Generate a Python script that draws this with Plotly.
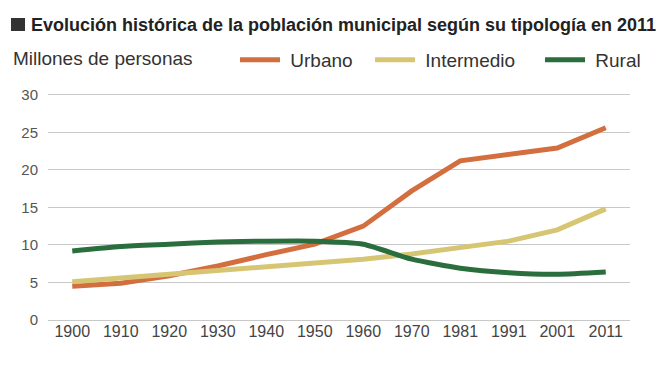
import plotly.graph_objects as go

years = ["1900", "1910", "1920", "1930", "1940", "1950", "1960", "1970", "1981", "1991", "2001", "2011"]
urbano = [4.5, 4.9, 5.9, 7.2, 8.7, 10.1, 12.5, 17.2, 21.2, 22.1, 22.9, 25.6]
intermedio = [5.1, 5.6, 6.1, 6.7, 7.2, 7.6, 8.1, 8.8, 9.7, 10.5, 12.0, 14.8]
rural = [9.2, 9.8, 10.1, 10.4, 10.5, 10.5, 10.1, 8.1, 6.9, 6.3, 6.1, 6.4]

series = [("Urbano", urbano, "#D36E3F", "linear", "legend", 0.3213),
          ("Intermedio", intermedio, "#D6C674", "linear", "legend2", 0.5533),
          ("Rural", rural, "#2A6E3E", "spline", "legend3", 0.8454)]

# the page body has an 8px margin; positions below are in page pixels
PL, PT, PW, PH = 48, 91, 582, 229
def px(x):
    return (x - PL) / PW
def py(y):
    return 1 + (PT - y) / PH

fig = go.Figure()
leg_layout = {}
for name, vals, col, shape, leg, lx in series:
    fig.add_trace(go.Scatter(x=years, y=vals, name="\u00a0" + name, mode="lines", legend=leg,
                             line=dict(color=col, width=5, shape=shape, smoothing=0.6)))
    leg_layout[leg] = dict(orientation="h", x=lx, xanchor="left", y=py(60),
                           yanchor="middle", font=dict(size=19, color="#333333"),
                           itemwidth=40, bgcolor="rgba(0,0,0,0)")

fig.update_layout(
    width=664, height=385,
    margin=dict(l=PL - 8, r=664 - (PL + PW) + 8, t=PT - 8, b=385 - (PT + PH) + 8, autoexpand=False),
    paper_bgcolor="white", plot_bgcolor="white",
    font=dict(family="Liberation Sans, Arial, sans-serif", color="#444444"),
    showlegend=True,
    xaxis=dict(type="category", range=[-0.5, 11.5], showgrid=False, showline=False,
               ticks="", tickfont=dict(size=16, color="#444444")),
    yaxis=dict(range=[0, 30.5], tickvals=[0, 5, 10, 15, 20, 25, 30], showgrid=True,
               gridcolor="#C8C8C8", gridwidth=1, zeroline=True, zerolinecolor="#C8C8C8",
               zerolinewidth=1, ticks="", ticklabelstandoff=9,
               tickfont=dict(size=15, color="#555555")),
    **leg_layout,
)
fig.add_shape(type="rect", xref="paper", yref="paper", x0=px(11), x1=px(25), y0=py(31), y1=py(18),
              fillcolor="#333333", line=dict(width=0))
fig.add_annotation(xref="paper", yref="paper", x=px(29), y=py(25),
                   xanchor="left", yanchor="middle", showarrow=False,
                   text="<b>Evolución histórica de la población municipal según su tipología en 2011</b>",
                   font=dict(family="Liberation Sans, Arial, sans-serif", size=18, color="#222222"))
fig.add_annotation(xref="paper", yref="paper", x=px(11), y=py(58),
                   xanchor="left", yanchor="middle", showarrow=False,
                   text="Millones de personas",
                   font=dict(size=19, color="#333333"))
fig.write_html("out.html")
